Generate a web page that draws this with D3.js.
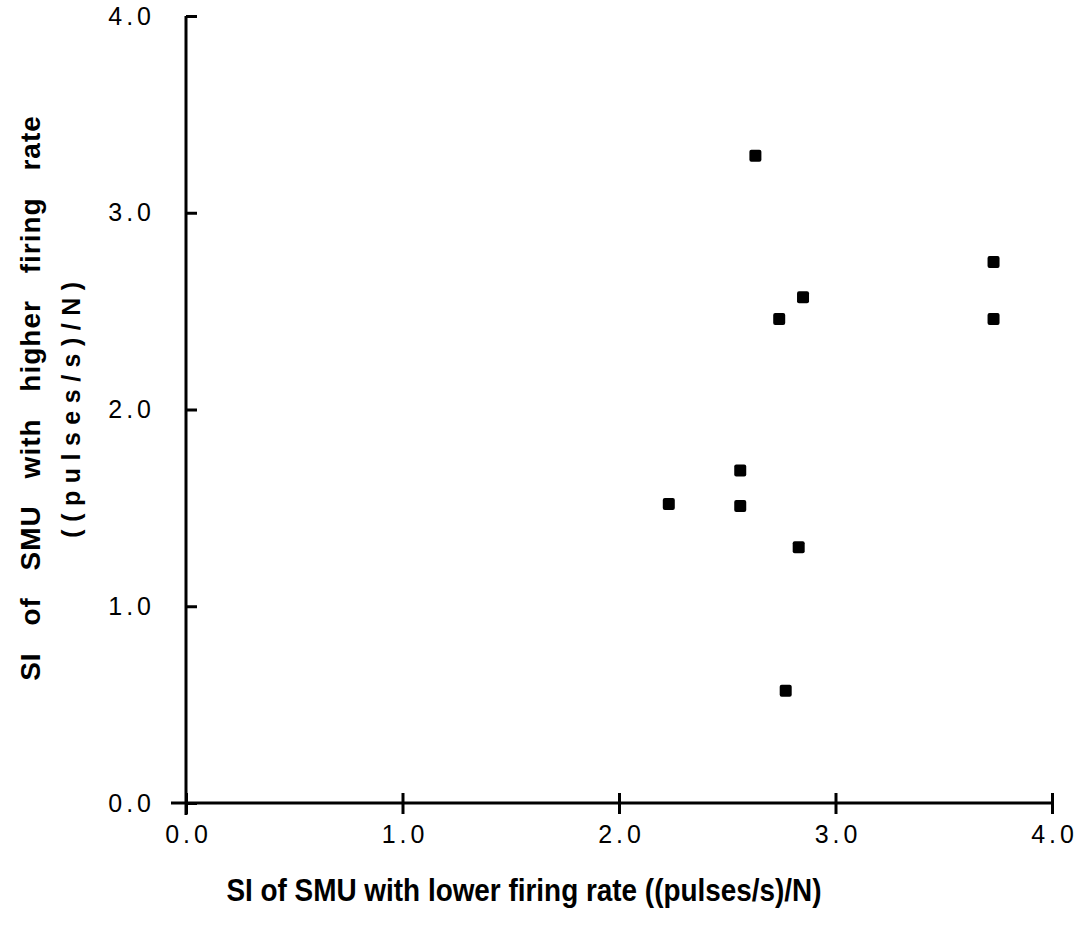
<!DOCTYPE html>
<html>
<head>
<meta charset="utf-8">
<script src="https://cdn.jsdelivr.net/npm/d3@7"></script>
<style>
  body { margin: 0; background: #fff; }
  .axis path, .axis line { stroke: #000; stroke-width: 3px; }
  .axis text { font-family: "Liberation Sans", Arial, sans-serif; font-size: 25px; letter-spacing: 4px; fill: #000; }
</style>
</head>
<body>
<div id="chart"></div>
<script>
// data
var xVals = [2.63, 3.73, 3.73, 2.85, 2.74, 2.56, 2.23, 2.56, 2.83, 2.77];
var yVals = [3.29, 2.75, 2.46, 2.57, 2.46, 1.69, 1.52, 1.51, 1.30, 0.57];
var xTicks = [0, 1, 2, 3, 4];
var yTicks = [0, 1, 2, 3, 4];
var xTitle = "SI of SMU with lower firing rate ((pulses/s)/N)";
var yTitle1 = "SI of SMU with higher firing rate";
var yTitle2 = "((pulses/s)/N)";

var W = 1080, H = 939;
var margin = {top: 16, right: 26, bottom: 136, left: 186};
var width = W - margin.left - margin.right,
    height = H - margin.top - margin.bottom;

var xScale = d3.scaleLinear().domain([0, 4]).range([0, width - 2]);
var yScale = d3.scaleLinear().domain([0, 4]).range([height, 0]);

var svg = d3.select("#chart").append("svg")
    .attr("width", W)
    .attr("height", H)
  .append("g")
    .attr("transform", "translate(" + margin.left + "," + margin.top + ")");

// x axis, ticks cross the line
var gx = svg.append("g")
    .attr("class", "x axis")
    .attr("transform", "translate(0," + height + ")")
    .call(d3.axisBottom(xScale).tickValues(xTicks).tickSize(11).tickSizeOuter(0).tickPadding(11)
        .tickFormat(d3.format(".1f")));
gx.selectAll(".tick line").attr("y1", -10);
gx.selectAll(".tick text").attr("dx", "2px");
gx.select(".domain").attr("d", "M-15,0H" + xScale(4));

// y axis
var gy = svg.append("g")
    .attr("class", "y axis")
    .call(d3.axisLeft(yScale).tickValues(yTicks).tickSize(12).tickSizeOuter(0).tickPadding(19)
        .tickFormat(d3.format(".1f")));
gy.selectAll(".tick line").attr("x2", 11);
gy.select(".domain").attr("d", "M0," + yScale(4) + "V" + (height + 12));

// points
svg.selectAll("rect.pt")
    .data(xVals.map(function(d, i) { return {x: d, y: yVals[i]}; }))
  .enter().append("rect")
    .attr("class", "pt")
    .attr("x", function(d) { return xScale(d.x) - 6; })
    .attr("y", function(d) { return yScale(d.y) - 6; })
    .attr("width", 12)
    .attr("height", 12)
    .attr("rx", 2)
    .attr("fill", "#000");

// axis titles
svg.append("text")
    .attr("transform", "translate(338," + (height + 98) + ") scale(0.9,1)")
    .attr("text-anchor", "middle")
    .style("font-family", "'Liberation Sans', Arial, sans-serif")
    .style("font-weight", "bold")
    .style("font-size", "31px")
    .text(xTitle);

svg.append("text")
    .attr("transform", "translate(-146,382) rotate(-90)")
    .attr("text-anchor", "middle")
    .style("font-family", "'Liberation Sans', Arial, sans-serif")
    .style("font-weight", "bold")
    .style("font-size", "28px")
    .style("letter-spacing", "1px")
    .style("word-spacing", "18px")
    .text(yTitle1);

svg.append("text")
    .attr("transform", "translate(-106,390) rotate(-90)")
    .attr("text-anchor", "middle")
    .style("font-family", "'Liberation Sans', Arial, sans-serif")
    .style("font-weight", "bold")
    .style("font-size", "25px")
    .style("letter-spacing", "7.5px")
    .text(yTitle2);
</script>
</body>
</html>
